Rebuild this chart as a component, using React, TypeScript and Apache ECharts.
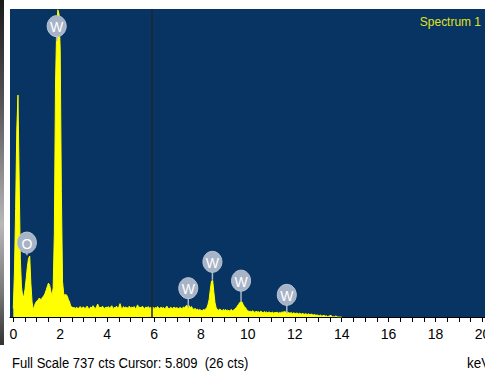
import React, { useEffect, useRef } from "react";
import * as echarts from "echarts";

// Spectrum channel calibration (keV) and counts
const energyStepKeV = 0.05;
const counts: number[] = [
  // 0.00 - 0.95
  20, 110, 260, 450, 531, 330, 140, 72, 50, 50, 66, 92, 120, 140, 146, 80, 36, 18, 26, 34,
  // 1.00 - 1.95
  38, 40, 45, 43, 42, 48, 50, 56, 64, 73, 81, 76, 62, 50, 70, 200, 560, 690, 735, 725,
  // 2.00 - 2.95
  640, 300, 85, 55, 52, 54, 50, 42, 36, 26, 24, 22, 23, 20, 24, 19, 22, 25, 21, 23,
  // 3.00 - 3.95
  24, 20, 23, 26, 21, 19, 24, 22, 27, 23, 20, 25, 31, 22, 24, 21, 26, 23, 20, 24,
  // 4.00 - 4.95
  22, 25, 21, 24, 27, 20, 23, 22, 26, 21, 24, 32, 23, 20, 25, 22, 24, 21, 23, 26,
  // 5.00 - 5.95
  21, 24, 22, 25, 20, 23, 29, 22, 24, 21, 26, 23, 20, 24, 22, 25, 21, 23, 22, 24,
  // 6.00 - 6.95
  20, 23, 21, 25, 22, 19, 24, 21, 23, 20, 22, 26, 21, 19, 23, 22, 20, 24, 21, 22,
  // 7.00 - 7.95
  22, 19, 23, 21, 20, 24, 22, 26, 28, 24, 27, 22, 25, 20, 18, 21, 17, 19, 16, 18,
  // 8.00 - 8.95
  16, 15, 18, 17, 19, 22, 30, 42, 66, 86, 88, 60, 34, 22, 18, 16, 19, 17, 15, 18,
  // 9.00 - 9.95
  16, 18, 15, 17, 14, 16, 18, 15, 17, 19, 22, 26, 30, 34, 37, 36, 30, 25, 22, 18,
  // 10.00 - 10.95
  15, 13, 14, 12, 15, 13, 11, 14, 12, 13, 11, 14, 12, 10, 13, 11, 12, 10, 12, 11,
  // 11.00 - 11.95
  10, 12, 9, 11, 10, 12, 9, 11, 10, 12, 11, 13, 12, 14, 11, 10, 9, 11, 8, 10,
  // 12.00 - 12.95
  9, 8, 10, 7, 9, 8, 7, 9, 6, 8, 7, 6, 8, 5, 7, 6, 5, 6, 4, 5,
  // 13.00 - 13.95
  4, 3, 5, 2, 3, 4, 2, 3, 1, 2, 3, 4, 0, 1, 0, 3, 0, 0, 0, 0,
  // 14.00
  0,
];

// Peak identification markers: element, energy, marker height, stem end (counts)
const markerLetters = ["O", "W", "W", "W", "W", "W"];
const markerEnergy = [0.58, 1.85, 7.46, 8.49, 9.71, 11.66];
const markerCounts = [178, 696, 69, 132, 87, 53];
const markerStemEnd = [148, 660, 22, 89, 37, 9];

const xTickValues = [
  0, 0.5, 1, 1.5, 2, 2.5, 3, 3.5, 4, 4.5, 5, 5.5, 6, 6.5, 7, 7.5, 8, 8.5, 9, 9.5,
  10, 10.5, 11, 11.5, 12, 12.5, 13, 13.5, 14, 14.5, 15, 15.5, 16, 16.5, 17, 17.5,
  18, 18.5, 19, 19.5, 20,
];
const xLabelValues = [0, 2, 4, 6, 8, 10, 12, 14, 16, 18, 20];

const fullScaleCts = 737;
const cursorKeV = 5.809;
const cursorCts = 26;
const cursorLineKeV = 5.9;
const spectrumName = "Spectrum 1";

export default function App() {
  const ref = useRef<HTMLDivElement>(null);

  useEffect(() => {
    if (!ref.current) return;
    const chart = echarts.init(ref.current, undefined, { renderer: "svg" });

    const data = counts.map((c, i) => [+(i * energyStepKeV).toFixed(2), c]);
    const markerData = markerEnergy.map((e, i) => [e, markerCounts[i], markerStemEnd[i]]);

    const font = "'Liberation Sans', Arial, sans-serif";

    chart.setOption({
      animation: false,
      grid: {
        left: 10,
        right: 0,
        top: 9,
        bottom: 55,
        show: true,
        backgroundColor: "#073462",
        borderWidth: 0,
      },
      xAxis: {
        type: "value",
        min: -0.14,
        max: 20.75,
        splitLine: { show: false },
        axisLine: { show: true, lineStyle: { color: "#000", width: 1 } },
        axisTick: {
          show: true,
          customValues: xTickValues,
          length: 5,
          lineStyle: { color: "#000", width: 1 },
        },
        axisLabel: {
          customValues: xLabelValues,
          color: "#000",
          fontSize: 14,
          fontFamily: font,
          margin: 10,
        },
      },
      yAxis: {
        type: "value",
        min: 0,
        max: fullScaleCts,
        show: false,
        splitLine: { show: false },
      },
      series: [
        {
          type: "line",
          data,
          showSymbol: false,
          symbol: "none",
          lineStyle: { color: "#ffff00", width: 1 },
          areaStyle: { color: "#ffff00", opacity: 1 },
          z: 2,
          markLine: {
            silent: true,
            symbol: "none",
            label: { show: false },
            lineStyle: { color: "#1c2430", width: 1.5, type: "solid" },
            data: [{ xAxis: cursorLineKeV }],
          },
        },
        {
          type: "custom",
          z: 5,
          data: markerData,
          renderItem: (params: any, api: any) => {
            const c = api.coord([api.value(0), api.value(1)]);
            const s = api.coord([api.value(0), api.value(2)]);
            return {
              type: "group",
              children: [
                {
                  type: "line",
                  shape: { x1: c[0], y1: c[1] + 8, x2: s[0], y2: s[1] },
                  style: { stroke: "#a9b5c8", lineWidth: 1.5 },
                },
                {
                  type: "ellipse",
                  shape: { cx: c[0], cy: c[1], rx: 9.5, ry: 10.5 },
                  style: { fill: "#a7b3c6", stroke: "#bcc6d6", lineWidth: 1 },
                },
                {
                  type: "text",
                  style: {
                    text: markerLetters[params.dataIndex],
                    x: c[0],
                    y: c[1] + 1,
                    align: "center",
                    verticalAlign: "middle",
                    fill: "#ffffff",
                    fontSize: 14,
                    fontFamily: font,
                  },
                },
              ],
            };
          },
        },
      ],
      graphic: [
        {
          type: "rect",
          shape: { x: 0, y: 0, width: 4, height: 345 },
          style: {
            fill: new echarts.graphic.LinearGradient(0, 0, 0, 1, [
              { offset: 0, color: "#1a1a1a" },
              { offset: 0.3, color: "#555555" },
              { offset: 0.65, color: "#b8b8b8" },
              { offset: 0.85, color: "#777777" },
              { offset: 1, color: "#333333" },
            ]),
          },
        },
        {
          type: "text",
          x: 481,
          y: 22,
          scaleX: 0.92,
          style: {
            text: spectrumName,
            x: 0,
            y: 0,
            align: "right",
            verticalAlign: "middle",
            fill: "#e2e21c",
            fontSize: 13,
            fontFamily: font,
          },
        },
        {
          type: "text",
          x: 12,
          y: 363,
          scaleX: 0.87,
          style: {
            text: `Full Scale ${fullScaleCts} cts Cursor: ${cursorKeV.toFixed(3)}\u00a0 (${cursorCts} cts)`,
            x: 0,
            y: 0,
            align: "left",
            verticalAlign: "middle",
            fill: "#000",
            fontSize: 15,
            fontFamily: font,
          },
        },
        {
          type: "text",
          x: 467,
          y: 363,
          scaleX: 0.9,
          style: {
            text: "keV",
            x: 0,
            y: 0,
            align: "left",
            verticalAlign: "middle",
            fill: "#000",
            fontSize: 15,
            fontFamily: font,
          },
        },
      ],
    });

    return () => chart.dispose();
  }, []);

  return (
    <div
      style={{
        position: "fixed",
        left: 0,
        top: 0,
        width: 485,
        height: 372,
        overflow: "hidden",
        background: "#fff",
      }}
    >
      <div ref={ref} style={{ width: 500, height: 372 }} />
    </div>
  );
}
